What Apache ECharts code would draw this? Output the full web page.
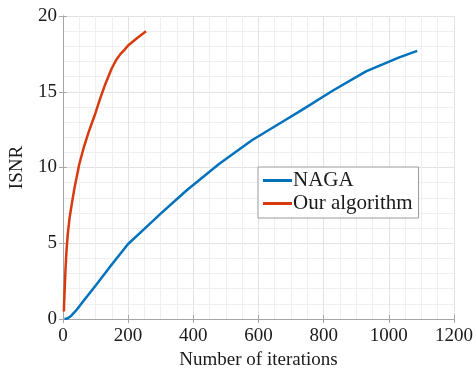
<!DOCTYPE html>
<html>
<head>
<meta charset="utf-8">
<script src="https://cdn.jsdelivr.net/npm/echarts@6/dist/echarts.min.js"></script>
<style>
	html, body { margin: 0; padding: 0; background: #fff; }
	#main { width: 476px; height: 376px; }
</style>
</head>
<body>
<div id="main"></div>
<script>
	// values
	var nagaX = [5, 15, 25, 40, 60, 100, 150, 200, 250, 300, 380, 480, 580, 680, 730, 830, 930, 1030, 1087];
	var nagaY = [0.0, 0.05, 0.2, 0.55, 1.1, 2.2, 3.6, 4.95, 5.95, 6.95, 8.5, 10.25, 11.8, 13.1, 13.75, 15.1, 16.35, 17.25, 17.7];
	var oursX = [3, 4, 6, 8, 11, 15, 20, 28, 36, 50, 65, 80, 100, 115, 130, 150, 165, 177, 190, 200, 228, 255];
	var oursY = [0.5, 1.2, 2.2, 3.3, 4.5, 5.6, 6.6, 7.7, 8.7, 10.2, 11.4, 12.4, 13.6, 14.6, 15.5, 16.55, 17.15, 17.5, 17.8, 18.05, 18.55, 19.0];
	var seriesNames = ['NAGA', 'Our algorithm'];

	function pairs(xs, ys) {
		var out = [];
		for (var i = 0; i < xs.length; i++) {
			out.push([xs[i], ys[i]]);
		}
		return out;
	}

	var font = 'Liberation Serif';
	var frame = '#a6a6a6';
	var ink = '#1a1a1a';

	var myChart = echarts.init(document.getElementById('main'));
	var option = {
		animation: false,
		color: ['#0072bd', '#d63a0e'],
		grid: { left: 58, right: 21, top: 16, bottom: 57 },
		legend: {
			orient: 'vertical',
			left: 258,
			top: 167,
			data: seriesNames,
			icon: 'rect',
			itemWidth: 29,
			itemHeight: 3,
			itemGap: 2,
			padding: [3, 6, 4, 5],
			borderColor: '#9a9a9a',
			borderWidth: 1,
			borderRadius: 0,
			backgroundColor: '#fff',
			textStyle: { fontFamily: font, fontSize: 21, color: ink, padding: [0, 0, 0, -4] }
		},
		xAxis: [
			{
				type: 'value',
				min: 0, max: 1200, interval: 200,
				name: 'Number of iterations',
				nameLocation: 'middle',
				nameGap: 27,
				nameTextStyle: { fontFamily: font, fontSize: 19, color: ink },
				axisLine: { lineStyle: { color: frame } },
				axisTick: { inside: true, length: 4, lineStyle: { color: frame } },
				axisLabel: { fontFamily: font, fontSize: 19, color: ink, margin: 8, formatter: function (v) { return String(v); } },
				splitLine: { lineStyle: { color: '#e2e2e2' } },
				minorTick: { show: false, splitNumber: 4 },
				minorSplitLine: { show: true, lineStyle: { color: '#efefef' } }
			},
			{
				type: 'value', position: 'top',
				min: 0, max: 1200, interval: 200,
				axisLine: { show: true, lineStyle: { color: frame } },
				axisTick: { inside: true, length: 4, lineStyle: { color: frame } },
				axisLabel: { show: false },
				splitLine: { show: false }
			}
		],
		yAxis: [
			{
				type: 'value',
				min: 0, max: 20, interval: 5,
				name: 'ISNR',
				nameLocation: 'middle',
				nameGap: 32,
				nameTextStyle: { fontFamily: font, fontSize: 19, color: ink },
				axisLine: { show: true, lineStyle: { color: frame } },
				axisTick: { show: true, inside: true, length: 4, lineStyle: { color: frame } },
				axisLabel: { fontFamily: font, fontSize: 19, color: ink, margin: 6 },
				splitLine: { lineStyle: { color: '#e2e2e2' } },
				minorTick: { show: false, splitNumber: 5 },
				minorSplitLine: { show: true, lineStyle: { color: '#efefef' } }
			},
			{
				type: 'value', position: 'right',
				min: 0, max: 20, interval: 5,
				axisLine: { show: true, lineStyle: { color: frame } },
				axisTick: { show: true, inside: true, length: 4, lineStyle: { color: frame } },
				axisLabel: { show: false },
				splitLine: { show: false }
			}
		],
		series: [
			{
				name: seriesNames[0],
				type: 'line',
				showSymbol: false,
				lineStyle: { width: 2.5, join: 'round' },
				data: pairs(nagaX, nagaY)
			},
			{
				name: seriesNames[1],
				type: 'line',
				showSymbol: false,
				lineStyle: { width: 2.5, join: 'round' },
				data: pairs(oursX, oursY)
			}
		]
	};
	myChart.setOption(option);
</script>
</body>
</html>
